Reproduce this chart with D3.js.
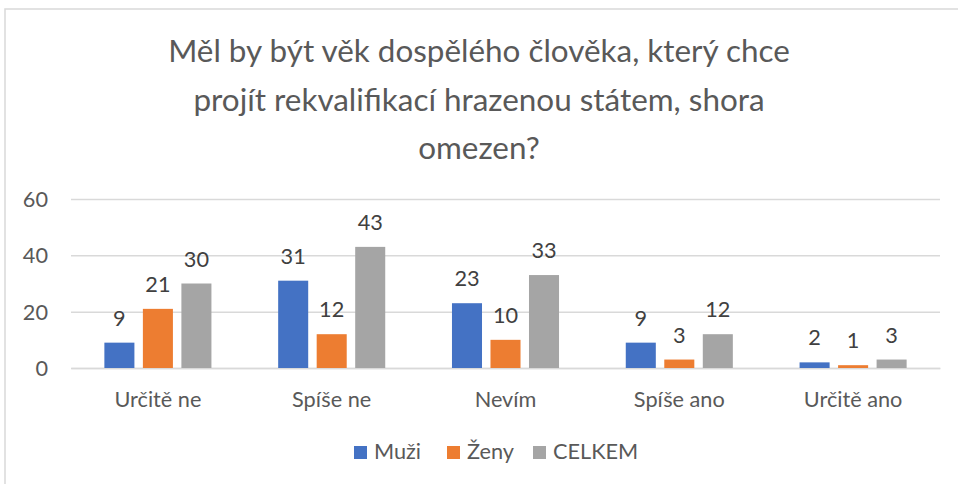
<!DOCTYPE html>
<html><head><meta charset="utf-8">
<script src="https://cdn.jsdelivr.net/npm/d3@7"></script>
<style>html,body{margin:0;padding:0;background:#fff;overflow:hidden}</style>
</head><body>
<svg id="c" width="958" height="484"></svg>
<script>
const titleLines = ["Měl by být věk dospělého člověka, který chce", "projít rekvalifikací hrazenou státem, shora", "omezen?"];
const categories = ["Určitě ne", "Spíše ne", "Nevím", "Spíše ano", "Určitě ano"];
const seriesNames = ["Muži", "Ženy", "CELKEM"];
const muzi = [9, 31, 23, 9, 2];
const zeny = [21, 12, 10, 3, 1];
const celkem = [30, 43, 33, 12, 3];
const yTicks = [0, 20, 40, 60];
const colors = ["#4472C4", "#ED7D31", "#A5A5A5"];
const seriesValues = [muzi, zeny, celkem];

(function () {
const FONT = "Lato, 'Open Sans', sans-serif";
const svg = d3.select("#c");

// border
svg.append("rect").attr("x", 5).attr("y", 9).attr("width", 1000).attr("height", 600)
  .attr("fill", "none").attr("stroke", "#d9d9d9").attr("stroke-width", 1.5);

function fitSize(text, targetWidth) {
  const t = svg.append("text").attr("font-family", FONT).attr("font-size", 100).text(text);
  const w = t.node().getComputedTextLength();
  t.remove();
  return 100 * targetWidth / w;
}

// title
const titleSize = fitSize(titleLines[0], 622);
const titleBase = [62, 111, 159];
svg.append("g").selectAll("text").data(titleLines).join("text")
  .attr("x", 479).attr("y", (d, i) => titleBase[i])
  .attr("text-anchor", "middle").attr("font-family", FONT)
  .attr("font-size", titleSize).attr("fill", "#595959").text(d => d);

const labelSize = fitSize("Určitě ne", 87);

const pl = 71, pr = 940, pt = 199, pb = 368;
const x0 = d3.scaleBand().domain(categories).range([pl, pr]).paddingInner(0.384).paddingOuter(0.192);
const x1 = d3.scaleBand().domain(seriesNames).range([0, x0.bandwidth()]).paddingInner(0.22).paddingOuter(0);
const y = d3.scaleLinear().domain([0, 60]).range([pb, pt]);

// gridlines
const yAxis = d3.axisLeft(y).tickValues(yTicks).tickSize(-(pr - pl)).tickPadding(23);
const ga = svg.append("g").attr("transform", `translate(${pl},0)`).call(yAxis);
ga.select(".domain").remove();
ga.selectAll(".tick line").attr("stroke", "#d9d9d9").attr("stroke-width", 1.5);
ga.selectAll(".tick text").attr("font-family", FONT).attr("font-size", labelSize)
  .attr("fill", "#595959").attr("dy", "0.35em");

// x axis
const xAxis = d3.axisBottom(x0).tickSize(0).tickPadding(0);
const gx = svg.append("g").attr("transform", `translate(0,${pb})`).call(xAxis);
gx.select(".domain").attr("stroke", "#d9d9d9").attr("stroke-width", 1.5);
gx.selectAll(".tick text").attr("font-family", FONT).attr("font-size", labelSize)
  .attr("fill", "#595959").attr("dy", null).attr("y", 39);

// bars
const data = [];
categories.forEach((c, ci) => seriesNames.forEach((s, si) => data.push({c, s, si, v: seriesValues[si][ci]})));
const bars = svg.append("g");
bars.selectAll("rect").data(data).join("rect")
  .attr("x", d => x0(d.c) + x1(d.s)).attr("width", x1.bandwidth())
  .attr("y", d => y(d.v)).attr("height", d => pb - y(d.v))
  .attr("fill", d => colors[d.si]);
bars.selectAll("text").data(data).join("text")
  .attr("x", d => x0(d.c) + x1(d.s) + x1.bandwidth() / 2)
  .attr("y", d => y(d.v) - 17)
  .attr("text-anchor", "middle").attr("font-family", FONT).attr("font-size", labelSize)
  .attr("fill", "#404040").text(d => d.v);

// legend
const legendX = [354, 447, 533];
const lg = svg.append("g").selectAll("g").data(seriesNames).join("g")
  .attr("transform", (d, i) => `translate(${legendX[i]},446)`);
lg.append("rect").attr("width", 13).attr("height", 13).attr("fill", (d, i) => colors[i]);
lg.append("text").attr("x", 20).attr("y", 13).attr("font-family", FONT).attr("font-size", labelSize)
  .attr("fill", "#595959").text(d => d);
})();
</script>
</body></html>
